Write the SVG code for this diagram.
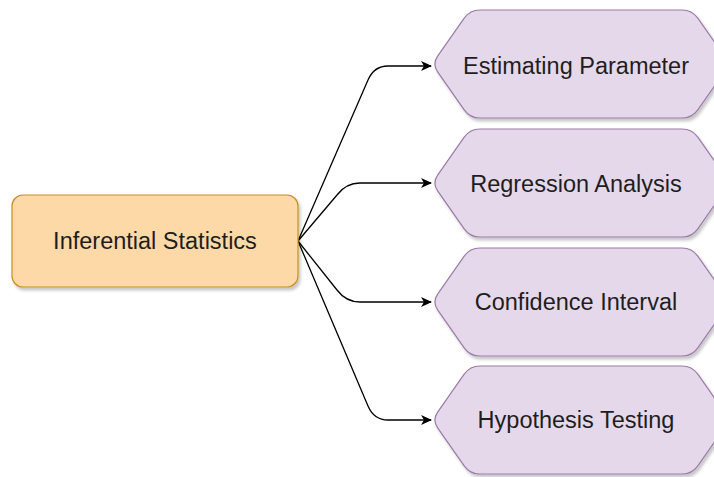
<svg xmlns="http://www.w3.org/2000/svg" width="714" height="477" viewBox="0 0 714 477">
  <defs>
    <style>
      .lbl { font-family: "Liberation Sans", Arial, sans-serif; font-size: 23.5px; fill: #1e1e1e; text-anchor: middle; }
      .hex { fill: #e6d8eb; stroke: #9a7aa8; stroke-width: 1.2; }
      .root { fill: #fdd9a8; stroke: #c98e1e; stroke-width: 1.2; }
      .edge { fill: none; stroke: #000; stroke-width: 1.3; }
    </style>
    <filter id="sh" x="-10%" y="-10%" width="130%" height="130%">
      <feDropShadow dx="2" dy="3" stdDeviation="1.5" flood-color="#000" flood-opacity="0.22"/>
    </filter>
    <marker id="arr" markerWidth="12" markerHeight="10" refX="10" refY="5" orient="auto" markerUnits="userSpaceOnUse">
      <path d="M0,0 L11,5 L0,10 L3,5 Z" fill="#000"/>
    </marker>
    <path id="hexShape" d="M437.8,45.8 L464.2,8.2 Q470,0 480,0 L682,0 Q692,0 697.8,8.2 L724.2,45.8 Q730,54 724.2,62.2 L697.8,99.8 Q692,108 682,108 L480,108 Q470,108 464.2,99.8 L437.8,62.2 Q432,54 437.8,45.8 Z"/>
  </defs>
  <rect width="714" height="477" fill="#fff"/>

  <g id="connectors">
    <path class="edge" marker-end="url(#arr)" d="M298,241 L368,80 Q374,66 388,66 L431,66"/>
    <path class="edge" marker-end="url(#arr)" d="M298,241 L337,195 Q346,183 360,183 L431,183"/>
    <path class="edge" marker-end="url(#arr)" d="M298,241 L337,290 Q346,302 360,302 L431,302"/>
    <path class="edge" marker-end="url(#arr)" d="M298,241 L368,406 Q374,420 388,420 L431,420"/>
  </g>

  <g id="inferential-statistics">
    <rect class="root" x="12" y="195" width="286" height="92" rx="11" ry="11" filter="url(#sh)"/>
    <text class="lbl" x="155" y="241" dy="0.35em">Inferential Statistics</text>
  </g>

  <g id="estimating-parameter">
    <use href="#hexShape" class="hex" transform="translate(0,10)" filter="url(#sh)"/>
    <text class="lbl" x="576" y="66" dy="0.35em">Estimating Parameter</text>
  </g>

  <g id="regression-analysis">
    <use href="#hexShape" class="hex" transform="translate(0,129)" filter="url(#sh)"/>
    <text class="lbl" x="576" y="184" dy="0.35em">Regression Analysis</text>
  </g>

  <g id="confidence-interval">
    <use href="#hexShape" class="hex" transform="translate(0,248)" filter="url(#sh)"/>
    <text class="lbl" x="576" y="302" dy="0.35em">Confidence Interval</text>
  </g>

  <g id="hypothesis-testing">
    <use href="#hexShape" class="hex" transform="translate(0,366)" filter="url(#sh)"/>
    <text class="lbl" x="576" y="420" dy="0.35em">Hypothesis Testing</text>
  </g>
</svg>
